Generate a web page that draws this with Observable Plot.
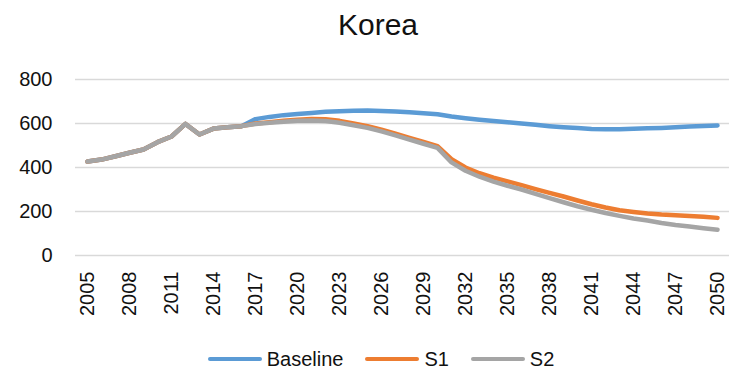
<!DOCTYPE html>
<html>
<head>
<meta charset="utf-8">
<script src="https://cdn.jsdelivr.net/npm/d3@7"></script>
<script src="https://cdn.jsdelivr.net/npm/@observablehq/plot@0.6"></script>
<style>
  body { margin: 0; background: #fff; font-family: "Liberation Sans", Arial, sans-serif; color: #111; }
  #title { width: 716px; padding-left: 20px; height: 50px; line-height: 50px; font-size: 30px; text-align: center; }
  #chart svg { display: block; }
  #legend { width: 710px; padding-left: 26px; height: 64px; display: flex; justify-content: center; align-items: center; font-size: 20px; }
  .item { display: flex; align-items: center; margin: 0 11px; }
  .swatch { width: 54px; height: 4.5px; border-radius: 3px; margin-right: 5px; }
</style>
</head>
<body>
<div id="title">Korea</div>
<div id="chart"></div>
<div id="legend"></div>
<script>
// Categories (years) and the three series, one value per year
const years = [2005, 2006, 2007, 2008, 2009, 2010, 2011, 2012, 2013, 2014, 2015, 2016,
  2017, 2018, 2019, 2020, 2021, 2022, 2023, 2024, 2025, 2026, 2027, 2028, 2029, 2030,
  2031, 2032, 2033, 2034, 2035, 2036, 2037, 2038, 2039, 2040, 2041, 2042, 2043, 2044,
  2045, 2046, 2047, 2048, 2049, 2050];

const baseline = [427, 436, 451, 467, 482, 515, 541, 598, 550, 577, 583, 588,
  620, 630, 638, 643, 648, 653, 656, 658, 659, 657, 654, 651, 647, 642,
  632, 624, 617, 611, 606, 600, 594, 588, 583, 579, 575, 574, 574, 576,
  578, 580, 583, 586, 589, 591];

const s1 = [427, 436, 451, 467, 482, 515, 541, 598, 550, 577, 583, 588,
  600, 606, 612, 617, 620, 619, 612, 600, 588, 572, 554, 535, 516, 497,
  438, 400, 374, 354, 337, 320, 302, 285, 268, 250, 233, 218, 206, 198,
  191, 186, 183, 179, 176, 171];

const s2 = [427, 436, 451, 467, 482, 515, 541, 598, 550, 577, 583, 588,
  598, 603, 608, 612, 614, 611, 603, 592, 580, 564, 546, 527, 508, 489,
  423, 385, 358, 336, 317, 300, 280, 261, 242, 224, 208, 193, 180, 168,
  159, 148, 139, 132, 124, 117];

const seriesNames = ["Baseline", "S1", "S2"];
const seriesColors = ["#5B9BD5", "#ED7D31", "#A5A5A5"];
const yTicks = [0, 200, 400, 600, 800];
const xTicks = years.filter(y => (y - 2005) % 3 === 0);

const seriesValues = [baseline, s1, s2];
const rows = seriesNames.flatMap((name, k) =>
  years.map((year, i) => ({series: name, year, value: seriesValues[k][i]})));

const fontFamily = '"Liberation Sans", Arial, sans-serif';

const chart = Plot.plot({
  width: 736,
  height: 277,
  marginLeft: 75,
  marginRight: 7,
  marginTop: 29,
  marginBottom: 72,
  style: {fontFamily, fontSize: "20px", color: "#111", background: "transparent", overflow: "visible"},
  x: {type: "point", domain: years, padding: 0.5},
  y: {domain: [0, 800]},
  color: {domain: seriesNames, range: seriesColors},
  marks: [
    Plot.gridY(yTicks, {stroke: "#d9d9d9", strokeWidth: 1.5, strokeOpacity: 1}),
    Plot.axisY(yTicks, {tickSize: 0, tickPadding: 23, label: null, fontSize: 20}),
    Plot.axisX(xTicks, {tickSize: 0, tickPadding: 16, tickRotate: -90, label: null, fontSize: 20, tickFormat: d => String(d)}),
    Plot.line(rows, {x: "year", y: "value", z: "series", stroke: "series",
      strokeWidth: 4.5, strokeLinejoin: "round", strokeLinecap: "round"})
  ]
});
document.getElementById("chart").append(chart);

// Legend below the plot
const legend = d3.select("#legend");
seriesNames.forEach((name, k) => {
  const item = legend.append("div").attr("class", "item");
  item.append("div").attr("class", "swatch").style("background", seriesColors[k]);
  item.append("span").text(name);
});
</script>
</body>
</html>
